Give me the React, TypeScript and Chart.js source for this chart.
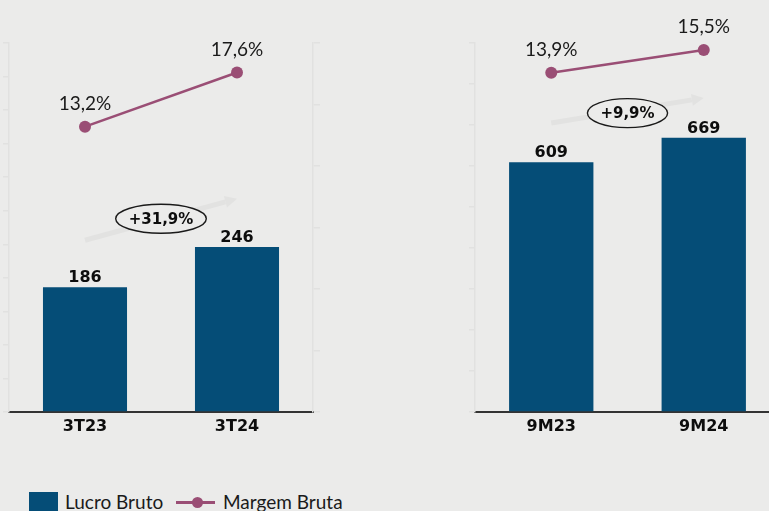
import React, { useEffect, useRef } from 'react';
import { Chart, registerables } from 'chart.js';

Chart.register(...registerables);

// ---- data ----
const quarterCategories = ['3T23', '3T24'];
const quarterGrossProfit = [186, 246];
const quarterGrossMargin = [13.2, 17.6];
const quarterGrowth = '+31,9%';

const ytdCategories = ['9M23', '9M24'];
const ytdGrossProfit = [609, 669];
const ytdGrossMargin = [13.9, 15.5];
const ytdGrowth = '+9,9%';

const legendLabels = ['Lucro Bruto', 'Margem Bruta'];

// ---- styles ----
const BAR = '#054d77';
const LINE = '#9a4e75';
const BG = '#ebebea';
const AXIS = '#e1e1e0';
const TEXT = '#0d0d0d';

const fmtPct = (v: number) => v.toFixed(1).replace('.', ',') + '%';

type PanelProps = {
  categories: string[];
  profit: number[];
  margin: number[];
  growth: string;
  yMax: number;
  yStep: number;
  y1Min: number;
  y1Max: number;
  y1Step: number;
  growthY: number;
  arrowFrom: number;
  arrowTo: number;
  left: number;
  width: number;
  leftAxisWidth: number;
  padRight: number;
};

function Panel(p: PanelProps) {
  const ref = useRef<HTMLCanvasElement | null>(null);

  useEffect(() => {
    if (!ref.current) return;

    const labelPlugin = {
      id: 'customLabels',
      beforeDatasetsDraw(chart: any) {
        const ctx = chart.ctx;
        const xs = chart.scales.x;
        const ys = chart.scales.y;
        const x0 = xs.getPixelForValue(0);
        const x1 = xs.getPixelForValue(1);
        const y0 = ys.getPixelForValue(p.arrowFrom);
        const y1 = ys.getPixelForValue(p.arrowTo);
        const ang = Math.atan2(y1 - y0, x1 - x0);
        const head = 12;
        const hx = x1 - Math.cos(ang) * head;
        const hy = y1 - Math.sin(ang) * head;
        ctx.save();
        ctx.strokeStyle = '#e2e2e1';
        ctx.fillStyle = '#e2e2e1';
        ctx.lineWidth = 5;
        ctx.beginPath();
        ctx.moveTo(x0, y0);
        ctx.lineTo(hx, hy);
        ctx.stroke();
        ctx.beginPath();
        ctx.moveTo(x1, y1);
        ctx.lineTo(hx + Math.sin(ang) * 6, hy - Math.cos(ang) * 6);
        ctx.lineTo(hx - Math.sin(ang) * 6, hy + Math.cos(ang) * 6);
        ctx.closePath();
        ctx.fill();
        ctx.restore();
      },
      afterDatasetsDraw(chart: any) {
        const ctx = chart.ctx;
        const xs = chart.scales.x;
        const ys = chart.scales.y;
        ctx.save();
        // bar values
        const barMeta = chart.getDatasetMeta(0);
        ctx.font = 'bold 16px "DejaVu Sans"';
        ctx.fillStyle = TEXT;
        ctx.textAlign = 'center';
        ctx.textBaseline = 'alphabetic';
        barMeta.data.forEach((el: any, i: number) => {
          ctx.fillText(String(p.profit[i]), el.x, el.y - 5);
        });
        // margin values
        const lineMeta = chart.getDatasetMeta(1);
        ctx.font = '19px Lato';
        ctx.fillStyle = '#1a1a1a';
        lineMeta.data.forEach((el: any, i: number) => {
          ctx.fillText(fmtPct(p.margin[i]), el.x, el.y - 17);
        });
        // growth ellipse
        const cx = (xs.getPixelForValue(0) + xs.getPixelForValue(1)) / 2;
        const cy = ys.getPixelForValue(p.growthY);
        ctx.font = 'bold 15px "DejaVu Sans"';
        const tw = ctx.measureText(p.growth).width;
        ctx.beginPath();
        ctx.ellipse(cx, cy, tw / 2 + 13, 14.5, 0, 0, Math.PI * 2);
        ctx.fillStyle = BG;
        ctx.fill();
        ctx.lineWidth = 1.4;
        ctx.strokeStyle = '#1a1a1a';
        ctx.stroke();
        ctx.fillStyle = TEXT;
        ctx.textBaseline = 'middle';
        ctx.fillText(p.growth, cx, cy + 1);
        ctx.restore();
      },
    };

    const chart = new Chart(ref.current, {
      type: 'bar',
      data: {
        labels: p.categories,
        datasets: [
          {
            type: 'bar',
            label: legendLabels[0],
            data: p.profit,
            backgroundColor: BAR,
            categoryPercentage: 1,
            barPercentage: 0.553,
            yAxisID: 'y',
            order: 1,
          } as any,
          {
            type: 'line',
            label: legendLabels[1],
            data: p.margin,
            borderColor: LINE,
            borderWidth: 2.5,
            pointRadius: 6,
            pointBackgroundColor: LINE,
            pointBorderWidth: 0,
            yAxisID: 'y1',
            order: 0,
            clip: false,
          } as any,
        ],
      },
      options: {
        responsive: false,
        animation: false,
        devicePixelRatio: 1,
        layout: { padding: { left: 0, top: 43, right: p.padRight, bottom: 0 } },
        plugins: { legend: { display: false }, tooltip: { enabled: false } },
        scales: {
          x: {
            type: 'category',
            offset: true,
            grid: { drawOnChartArea: false, drawTicks: false, color: 'rgba(0,0,0,0)' },
            border: { display: true, color: '#333333', width: 2 },
            ticks: {
              color: TEXT,
              padding: 5,
              font: { family: 'DejaVu Sans', size: 16, weight: 'bold' },
            },
            afterFit: (s: any) => {
              s.height = 48;
            },
          },
          y: {
            position: 'left',
            min: 0,
            max: p.yMax,
            ticks: { display: false, stepSize: p.yStep },
            grid: { drawOnChartArea: false, drawTicks: true, tickLength: 6, color: AXIS, lineWidth: 1.5 },
            border: { display: true, color: AXIS, width: 1.5 },
            afterFit: (s: any) => {
              s.width = p.leftAxisWidth;
            },
          },
          y1: {
            position: 'right',
            min: p.y1Min,
            max: p.y1Max,
            ticks: { display: false, stepSize: p.y1Step },
            grid: { drawOnChartArea: false, drawTicks: true, tickLength: 7, color: AXIS, lineWidth: 1.5 },
            border: { display: true, color: AXIS, width: 1.5 },
            afterFit: (s: any) => {
              s.width = 8;
            },
          },
        },
      } as any,
      plugins: [labelPlugin],
    });
    return () => chart.destroy();
  }, []);

  return (
    <canvas
      ref={ref}
      width={p.width}
      height={460}
      style={{ position: 'absolute', left: p.left, top: 0, width: p.width, height: 460 }}
    />
  );
}

export default function App() {
  return (
    <div
      style={{
        position: 'fixed',
        left: 0,
        top: 0,
        width: 769,
        height: 511,
        overflow: 'hidden',
        background: BG,
      }}
    >
      <Panel
        categories={quarterCategories}
        profit={quarterGrossProfit}
        margin={quarterGrossMargin}
        growth={quarterGrowth}
        yMax={550}
        yStep={50}
        y1Min={-10}
        y1Max={20}
        y1Step={5}
        growthY={288}
        arrowFrom={256}
        arrowTo={318}
        left={0}
        width={330}
        leftAxisWidth={9}
        padRight={9}
      />
      <Panel
        categories={ytdCategories}
        profit={ytdGrossProfit}
        margin={ytdGrossMargin}
        growth={ytdGrowth}
        yMax={900}
        yStep={100}
        y1Min={-10}
        y1Max={16}
        y1Step={5}
        growthY={729}
        arrowFrom={705}
        arrowTo={766}
        left={440}
        width={360}
        leftAxisWidth={35}
        padRight={12}
      />
      {/* legend */}
      <div style={{ position: 'absolute', left: 29, top: 492, width: 29, height: 25, background: BAR }} />
      <div
        style={{
          position: 'absolute',
          left: 65,
          top: 490,
          font: '19px Lato',
          lineHeight: 'normal',
          color: '#1a1a1a',
          whiteSpace: 'nowrap',
        }}
      >
        {legendLabels[0]}
      </div>
      <div style={{ position: 'absolute', left: 176, top: 501, width: 39, height: 2.5, background: LINE }} />
      <div
        style={{
          position: 'absolute',
          left: 191.5,
          top: 496.5,
          width: 11,
          height: 11,
          borderRadius: '50%',
          background: LINE,
        }}
      />
      <div
        style={{
          position: 'absolute',
          left: 223,
          top: 490,
          font: '19px Lato',
          lineHeight: 'normal',
          color: '#1a1a1a',
          whiteSpace: 'nowrap',
        }}
      >
        {legendLabels[1]}
      </div>
    </div>
  );
}
